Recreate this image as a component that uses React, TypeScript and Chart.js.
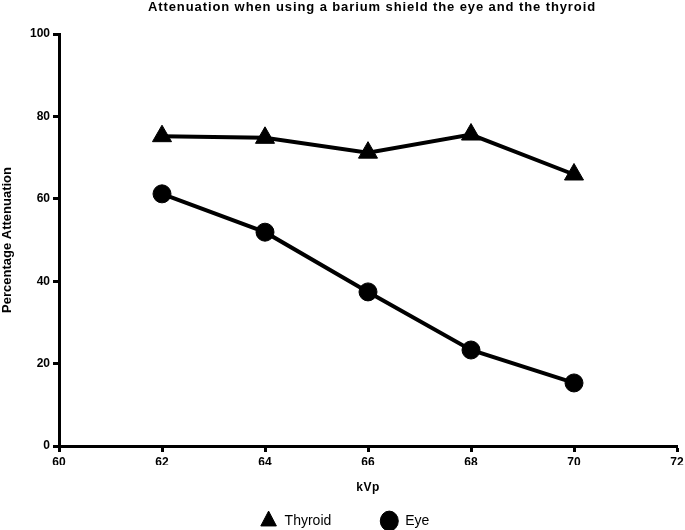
import React, { useEffect, useRef } from "react";
import { Chart, registerables } from "chart.js";

Chart.register(...registerables);

const kvp = [62, 64, 66, 68, 70];
const thyroid = [75.2, 74.8, 71.2, 75.6, 65.9];
const eye = [61.2, 51.9, 37.4, 23.3, 15.3];
const titleText = "Attenuation when using a barium shield the eye and the thyroid";
const xTitle = "kVp";
const yTitle = "Percentage Attenuation";

const FONT = "'Liberation Sans', Arial, sans-serif";

const textPlugin = {
  id: "extraText",
  afterDraw(chart: any) {
    const { ctx, chartArea } = chart;
    const cx = (chartArea.left + chartArea.right) / 2;
    ctx.save();
    ctx.fillStyle = "#000";
    ctx.textAlign = "center";
    ctx.textBaseline = "middle";
    ctx.font = `bold 13px ${FONT}`;
    try {
      (ctx as any).letterSpacing = "0.9px";
    } catch (e) {}
    ctx.fillText(titleText, cx + 4, 7);
    try {
      (ctx as any).letterSpacing = "0.5px";
    } catch (e) {}
    ctx.font = `bold 12px ${FONT}`;
    ctx.fillText(xTitle, cx, chartArea.bottom + 42);
    ctx.restore();
  },
};

export default function App() {
  const ref = useRef<HTMLCanvasElement>(null);
  useEffect(() => {
    if (!ref.current) return;
    const chart = new Chart(ref.current, {
      type: "line",
      data: {
        datasets: [
          {
            label: "Thyroid",
            data: kvp.map((x, i) => ({ x, y: thyroid[i] })),
            borderColor: "#000",
            backgroundColor: "#000",
            borderWidth: 4,
            pointStyle: "triangle",
            pointRadius: 11,
            pointBorderWidth: 1,
            tension: 0,
          },
          {
            label: "Eye",
            data: kvp.map((x, i) => ({ x, y: eye[i] })),
            borderColor: "#000",
            backgroundColor: "#000",
            borderWidth: 4,
            pointStyle: "circle",
            pointRadius: 9,
            pointBorderWidth: 1,
            tension: 0,
          },
        ],
      },
      options: {
        animation: false,
        responsive: true,
        maintainAspectRatio: false,
        layout: { padding: { top: 34, right: 0, left: 0, bottom: -8 } },
        plugins: {
          title: { display: false },
          tooltip: { enabled: false },
          legend: {
            position: "bottom",
            labels: {
              usePointStyle: true,
              pointStyleWidth: 18,
              color: "#000",
              font: { family: FONT, size: 14 },
              padding: 49,
            },
          },
        },
        scales: {
          x: {
            type: "linear",
            min: 60,
            max: 72,
            afterFit: (s: any) => {
              s.height = 19;
            },
            ticks: {
              stepSize: 2,
              color: "#000",
              font: { family: FONT, size: 12, weight: "bold" },
              padding: 3,
            },
            grid: {
              drawOnChartArea: false,
              drawTicks: true,
              tickLength: 6,
              tickWidth: 3,
              tickColor: "#000",
            },
            border: { display: true, color: "#000", width: 3 },
          },
          y: {
            min: 0,
            max: 100,
            afterFit: (s: any) => {
              s.width = 59;
            },
            ticks: {
              stepSize: 20,
              color: "#000",
              font: { family: FONT, size: 12, weight: "bold" },
              padding: 3,
            },
            grid: {
              drawOnChartArea: false,
              drawTicks: true,
              tickLength: 6,
              tickWidth: 3,
              tickColor: "#000",
            },
            border: { display: true, color: "#000", width: 3 },
            title: {
              display: true,
              text: yTitle,
              color: "#000",
              font: { family: FONT, size: 13, weight: "bold" },
              padding: 0,
            },
          },
        },
      },
      plugins: [textPlugin],
    });
    return () => chart.destroy();
  }, []);
  return (
    <div style={{ position: "absolute", left: 0, top: 0, width: 685, height: 530, overflow: "hidden" }}>
      <div style={{ position: "relative", width: 689, height: 530 }}>
        <canvas ref={ref} />
      </div>
    </div>
  );
}
